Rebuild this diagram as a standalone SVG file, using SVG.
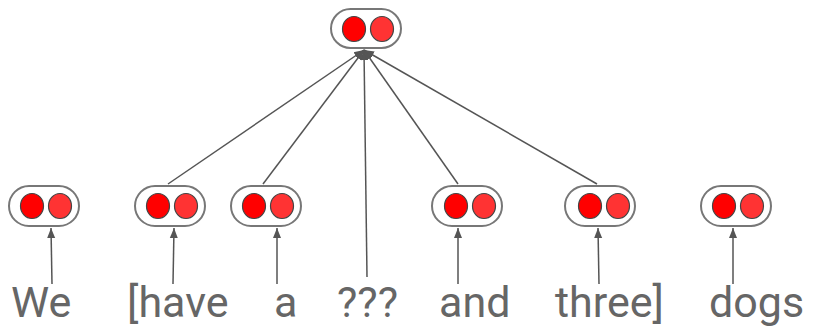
<svg xmlns="http://www.w3.org/2000/svg" width="817" height="328" viewBox="0 0 817 328">
<style>
.box{fill:#fff;stroke:#777;stroke-width:2}
.l{fill:#f00;stroke:#444;stroke-width:1.2}
.r{fill:#f33;stroke:#444;stroke-width:1.2}
.c{stroke:#555;stroke-width:1.5;fill:none;marker-end:url(#ah)}
.w{font-family:Roboto,"Liberation Sans",sans-serif;font-size:43px;fill:#666}
</style>
<defs>
<marker id="ah" markerUnits="userSpaceOnUse" markerWidth="10" markerHeight="10" refX="10" refY="5" orient="auto">
<path d="M0,1 L10,5 L0,9 Z" fill="#555"/>
</marker>
</defs>
<rect width="817" height="328" fill="#fff"/>
<g id="connectors">
<line class="c" x1="52" y1="284" x2="51" y2="228"/>
<line class="c" x1="173" y1="284" x2="174" y2="228"/>
<line class="c" x1="277" y1="284" x2="277" y2="228"/>
<line class="c" x1="458" y1="284" x2="458" y2="228"/>
<line class="c" x1="599" y1="284" x2="598" y2="228"/>
<line class="c" x1="733" y1="284" x2="733" y2="228"/>
<line class="c" x1="367" y1="277" x2="364" y2="50"/>
<line class="c" x1="168" y1="184" x2="364" y2="50"/>
<line class="c" x1="263" y1="184" x2="364" y2="50"/>
<line class="c" x1="458" y1="184" x2="364" y2="50"/>
<line class="c" x1="597" y1="184" x2="364" y2="50"/>
</g>
<g id="top">
<rect class="box" x="331" y="9" width="70" height="39" rx="19.5"/>
<ellipse class="l" cx="354" cy="29" rx="11.5" ry="12.5"/>
<ellipse class="r" cx="382" cy="29" rx="11.5" ry="12.5"/>
</g>
<g id="n1">
<rect class="box" x="9" y="186" width="70" height="40" rx="20"/>
<ellipse class="l" cx="32" cy="206" rx="11.5" ry="12.5"/>
<ellipse class="r" cx="60" cy="206" rx="11.5" ry="12.5"/>
</g>
<g id="n2">
<rect class="box" x="135" y="186" width="70" height="40" rx="20"/>
<ellipse class="l" cx="158" cy="206" rx="11.5" ry="12.5"/>
<ellipse class="r" cx="186" cy="206" rx="11.5" ry="12.5"/>
</g>
<g id="n3">
<rect class="box" x="231" y="186" width="70" height="40" rx="20"/>
<ellipse class="l" cx="254" cy="206" rx="11.5" ry="12.5"/>
<ellipse class="r" cx="282" cy="206" rx="11.5" ry="12.5"/>
</g>
<g id="n4">
<rect class="box" x="432" y="186" width="70" height="40" rx="20"/>
<ellipse class="l" cx="456" cy="206" rx="11.5" ry="12.5"/>
<ellipse class="r" cx="484" cy="206" rx="11.5" ry="12.5"/>
</g>
<g id="n5">
<rect class="box" x="565" y="186" width="70" height="40" rx="20"/>
<ellipse class="l" cx="590" cy="206" rx="11.5" ry="12.5"/>
<ellipse class="r" cx="618" cy="206" rx="11.5" ry="12.5"/>
</g>
<g id="n6">
<rect class="box" x="701" y="186" width="70" height="40" rx="20"/>
<ellipse class="l" cx="724" cy="206" rx="11.5" ry="12.5"/>
<ellipse class="r" cx="752" cy="206" rx="11.5" ry="12.5"/>
</g>
<g id="words">
<text class="w" x="11" y="317">We</text>
<text class="w" x="127" y="317">[have</text>
<text class="w" x="274" y="317">a</text>
<text class="w" x="337" y="317">???</text>
<text class="w" x="439" y="317">and</text>
<text class="w" x="555" y="317">three]</text>
<text class="w" x="709" y="317">dogs</text>
</g>
</svg>
